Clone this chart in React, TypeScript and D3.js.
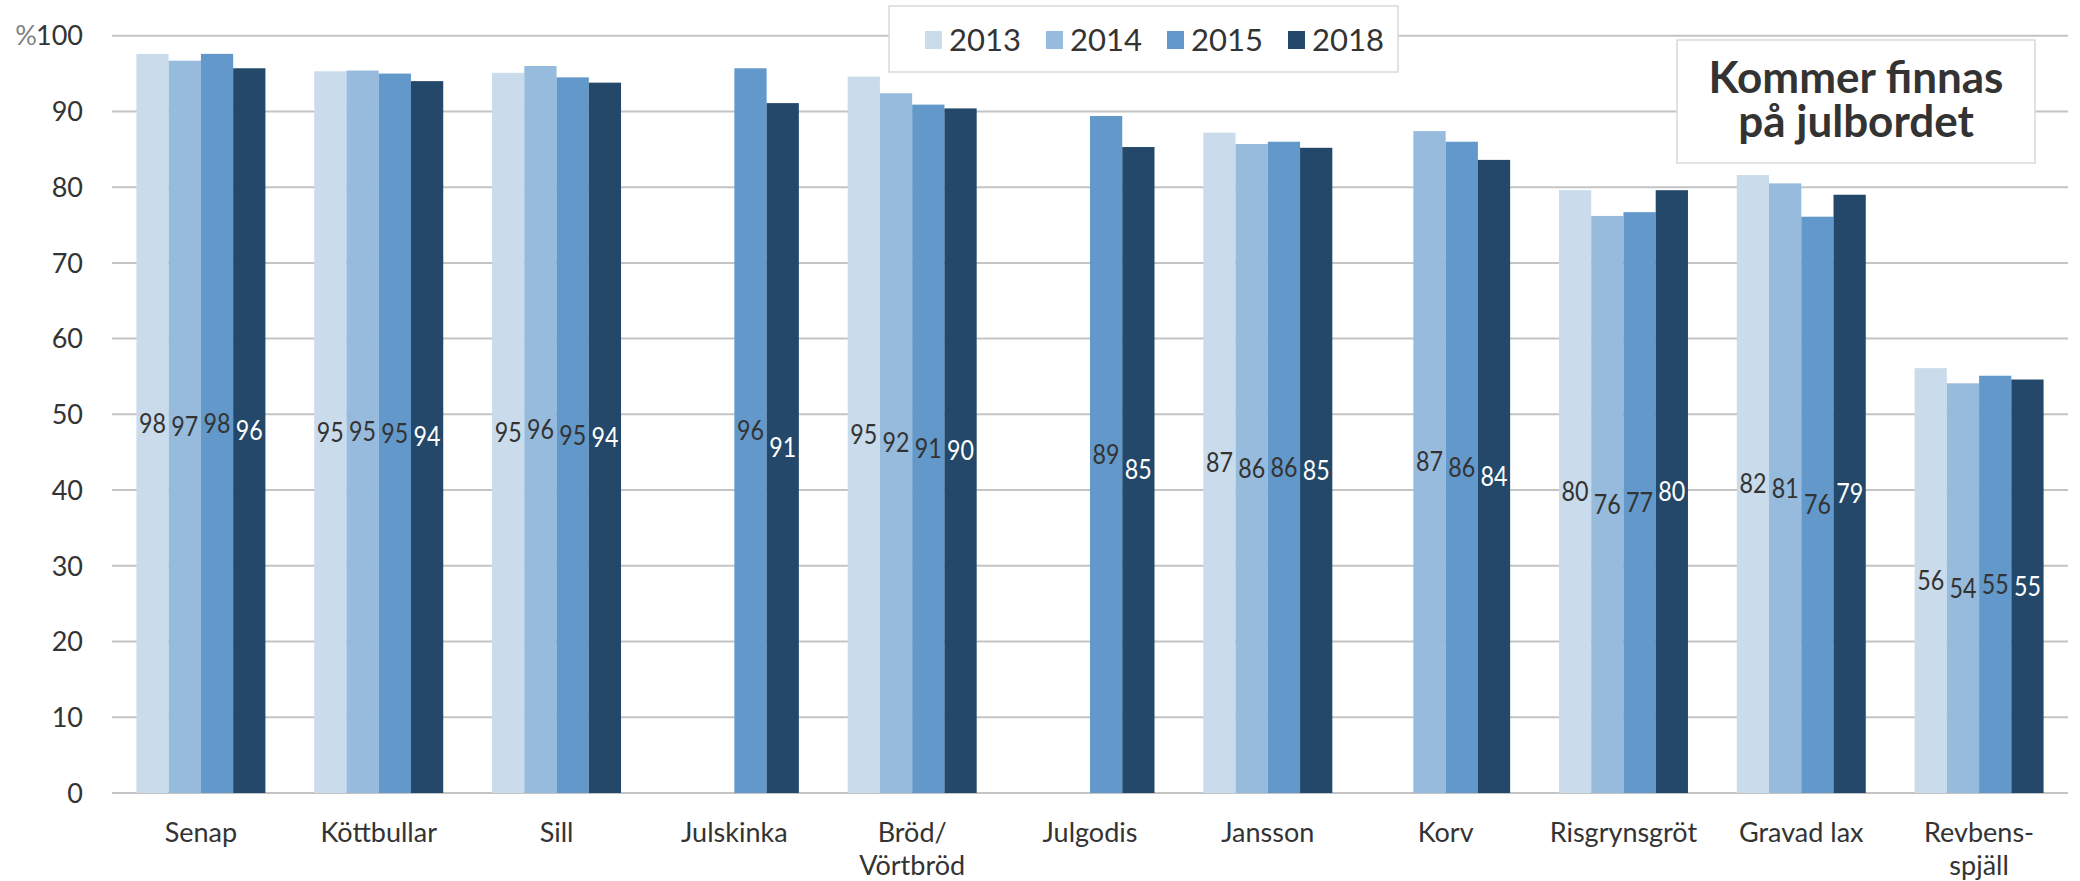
import React from 'react';
import * as d3 from 'd3';

// categories on the x axis (\n = second line)
const categories = [
  'Senap', 'Köttbullar', 'Sill', 'Julskinka', 'Bröd/\nVörtbröd', 'Julgodis',
  'Jansson', 'Korv', 'Risgrynsgröt', 'Gravad lax', 'Revbens-\nspjäll',
];

const years = ['2013', '2014', '2015', '2018'];

// values per year, null = not asked that year
const v2013 = [97.6, 95.3, 95.1, null, 94.6, null, 87.2, null, 79.6, 81.6, 56.1];
const v2014 = [96.7, 95.4, 96.0, null, 92.4, null, 85.7, 87.4, 76.2, 80.5, 54.1];
const v2015 = [97.6, 95.0, 94.5, 95.7, 90.9, 89.4, 86.0, 86.0, 76.7, 76.1, 55.1];
const v2018 = [95.7, 94.0, 93.8, 91.1, 90.4, 85.3, 85.2, 83.6, 79.6, 79.0, 54.6];

const yTicks = [0, 10, 20, 30, 40, 50, 60, 70, 80, 90, 100];

const noteLines = ['Kommer finnas', 'på julbordet'];

const colors = ['#CADCEC', '#97BBDD', '#6299CA', '#234869'];
const labelColors = ['#333333', '#333333', '#333333', '#ffffff'];

const W = 2080;
const H = 881;
const FONT = 'Lato, "Open Sans", sans-serif';

export default function App() {
  const series = [v2013, v2014, v2015, v2018];

  const x0 = d3.scaleBand<string>().domain(categories).range([112, 2068]).padding(0);
  const x1 = d3.scaleBand<string>().domain(years).range([0, x0.bandwidth()]).paddingOuter(0.757);
  const y = d3.scaleLinear().domain([0, 100]).range([793, 35.7]);

  const legendX = [925, 1046, 1167, 1288];

  return (
    <svg width={W} height={H} style={{ position: 'absolute', left: 0, top: 0, background: '#fff' }}
      fontFamily={FONT}>
      {/* gridlines */}
      {yTicks.map((t) => (
        <line key={t} x1={112} x2={2068} y1={y(t)} y2={y(t)} stroke="#C4C4C4" strokeWidth={2} />
      ))}

      {/* y tick labels */}
      {yTicks.map((t) => (
        <text key={t} x={83} y={y(t)} dy="0.36em" textAnchor="end" fontSize={27} fill="#333">
          {t}
        </text>
      ))}
      <text x={37} y={y(100)} dy="0.36em" textAnchor="end" fontSize={27} fill="#7f7f7f">%</text>

      {/* bars */}
      {categories.map((c, i) => (
        <g key={c} transform={`translate(${x0(c)},0)`}>
          {years.map((yr, j) => {
            const val = series[j][i];
            if (val == null) return null;
            return (
              <rect key={yr} x={x1(yr)} y={y(val)} width={x1.bandwidth()} height={y(0) - y(val)}
                fill={colors[j]} />
            );
          })}
          {years.map((yr, j) => {
            const val = series[j][i];
            if (val == null) return null;
            return (
              <text key={yr} x={(x1(yr) as number) + x1.bandwidth() / 2} y={y(val / 2)} dy="0.36em"
                textAnchor="middle" fontSize={26} fill={labelColors[j]}
                textLength={27} lengthAdjust="spacingAndGlyphs">
                {Math.round(val)}
              </text>
            );
          })}
        </g>
      ))}

      {/* x labels */}
      {categories.map((c) => (
        <text key={c} x={(x0(c) as number) + x0.bandwidth() / 2} y={832} textAnchor="middle"
          fontSize={27} fill="#333">
          {c.split('\n').map((line, k) => (
            <tspan key={k} x={(x0(c) as number) + x0.bandwidth() / 2} y={832 + k * 33} dy="0.36em">
              {line}
            </tspan>
          ))}
        </text>
      ))}

      {/* legend */}
      <rect x={889} y={6} width={509} height={66} fill="#fff" stroke="#D9D9D9" strokeWidth={1.5} />
      {years.map((yr, j) => (
        <g key={yr}>
          <rect x={legendX[j]} y={31} width={17} height={18} fill={colors[j]} />
          <text x={legendX[j] + 24} y={40} dy="0.36em" fontSize={31} fill="#333">{yr}</text>
        </g>
      ))}

      {/* annotation box */}
      <rect x={1677} y={40} width={358} height={123} fill="#fff" stroke="#D9D9D9" strokeWidth={1.5} />
      <text textAnchor="middle" fontSize={44} fontWeight="bold" fill="#333">
        {noteLines.map((line, k) => (
          <tspan key={k} x={1856} y={93 + k * 44}>{line}</tspan>
        ))}
      </text>
    </svg>
  );
}
